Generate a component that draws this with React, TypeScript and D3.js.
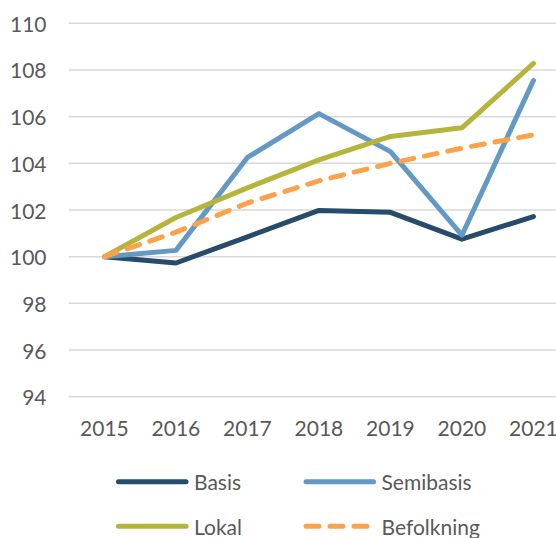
import React from "react";
import * as d3 from "d3";

const years = ["2015", "2016", "2017", "2018", "2019", "2020", "2021"];
const basis = [100, 99.73, 100.85, 101.98, 101.9, 100.75, 101.72];
const semibasis = [100, 100.27, 104.25, 106.13, 104.5, 100.92, 107.55];
const lokal = [100, 101.68, 102.95, 104.15, 105.15, 105.52, 108.28];
const befolkning = [100, 101.05, 102.3, 103.25, 104.0, 104.65, 105.22];
const yTicks = [94, 96, 98, 100, 102, 104, 106, 108, 110];

const seriesNames = ["Basis", "Semibasis", "Lokal", "Befolkning"];
const seriesValues = [basis, semibasis, lokal, befolkning];
const seriesColors = ["#264b6b", "#6399c3", "#b5b53c", "#fba24a"];
const seriesDash = [null, null, null, "13 11"];

const W = 556;
const H = 538;
const FONT = "Lato, 'Open Sans', sans-serif";
const TXT = "#595959";
const FS = 21;

export default function App() {
  const x = d3.scalePoint<string>().domain(years).range([68.7, 569.2]).padding(0.5);
  const y = d3.scaleLinear().domain([94, 110]).range([396.7, 23.3]);
  const line = d3
    .line<number>()
    .x((_, i) => x(years[i]) as number)
    .y((d) => y(d));

  const legendItems = [
    { name: seriesNames[0], color: seriesColors[0], dash: seriesDash[0], lx: 116, ly: 481.7 },
    { name: seriesNames[1], color: seriesColors[1], dash: seriesDash[1], lx: 303.5, ly: 481.7 },
    { name: seriesNames[2], color: seriesColors[2], dash: seriesDash[2], lx: 116, ly: 526.3 },
    { name: seriesNames[3], color: seriesColors[3], dash: seriesDash[3], lx: 303.5, ly: 526.3 },
  ];

  return (
    <svg
      width={W}
      height={H}
      style={{ position: "absolute", left: 0, top: 0, background: "#fff" }}
      fontFamily={FONT}
    >
      <rect x={0} y={0} width={W} height={H} fill="#fff" />
      {yTicks.map((t) => (
        <g key={t}>
          <line x1={68.7} x2={569.2} y1={y(t)} y2={y(t)} stroke="#d9d9d9" strokeWidth={1.5} />
          <text
            x={46.5}
            y={y(t)}
            textAnchor="end"
            dominantBaseline="central"
            fontSize={FS}
            fill={TXT}
          >
            {t}
          </text>
        </g>
      ))}
      {years.map((yr) => (
        <text
          key={yr}
          x={x(yr) as number}
          y={427.5}
          textAnchor="middle"
          dominantBaseline="central"
          fontSize={FS}
          fill={TXT}
        >
          {yr}
        </text>
      ))}
      {seriesValues.map((vals, i) => (
        <path
          key={seriesNames[i]}
          d={line(vals) || ""}
          fill="none"
          stroke={seriesColors[i]}
          strokeWidth={5}
          strokeLinejoin="round"
          strokeLinecap="round"
          strokeDasharray={seriesDash[i] || undefined}
        />
      ))}
      {legendItems.map((it) => (
        <g key={it.name}>
          <line
            x1={it.lx + 2.5}
            x2={it.lx + 70}
            y1={it.ly}
            y2={it.ly}
            stroke={it.color}
            strokeWidth={5}
            strokeLinecap="round"
            strokeDasharray={it.dash || undefined}
          />
          <text
            x={it.lx + 78}
            y={it.ly}
            dominantBaseline="central"
            fontSize={FS}
            fill={TXT}
          >
            {it.name}
          </text>
        </g>
      ))}
    </svg>
  );
}
